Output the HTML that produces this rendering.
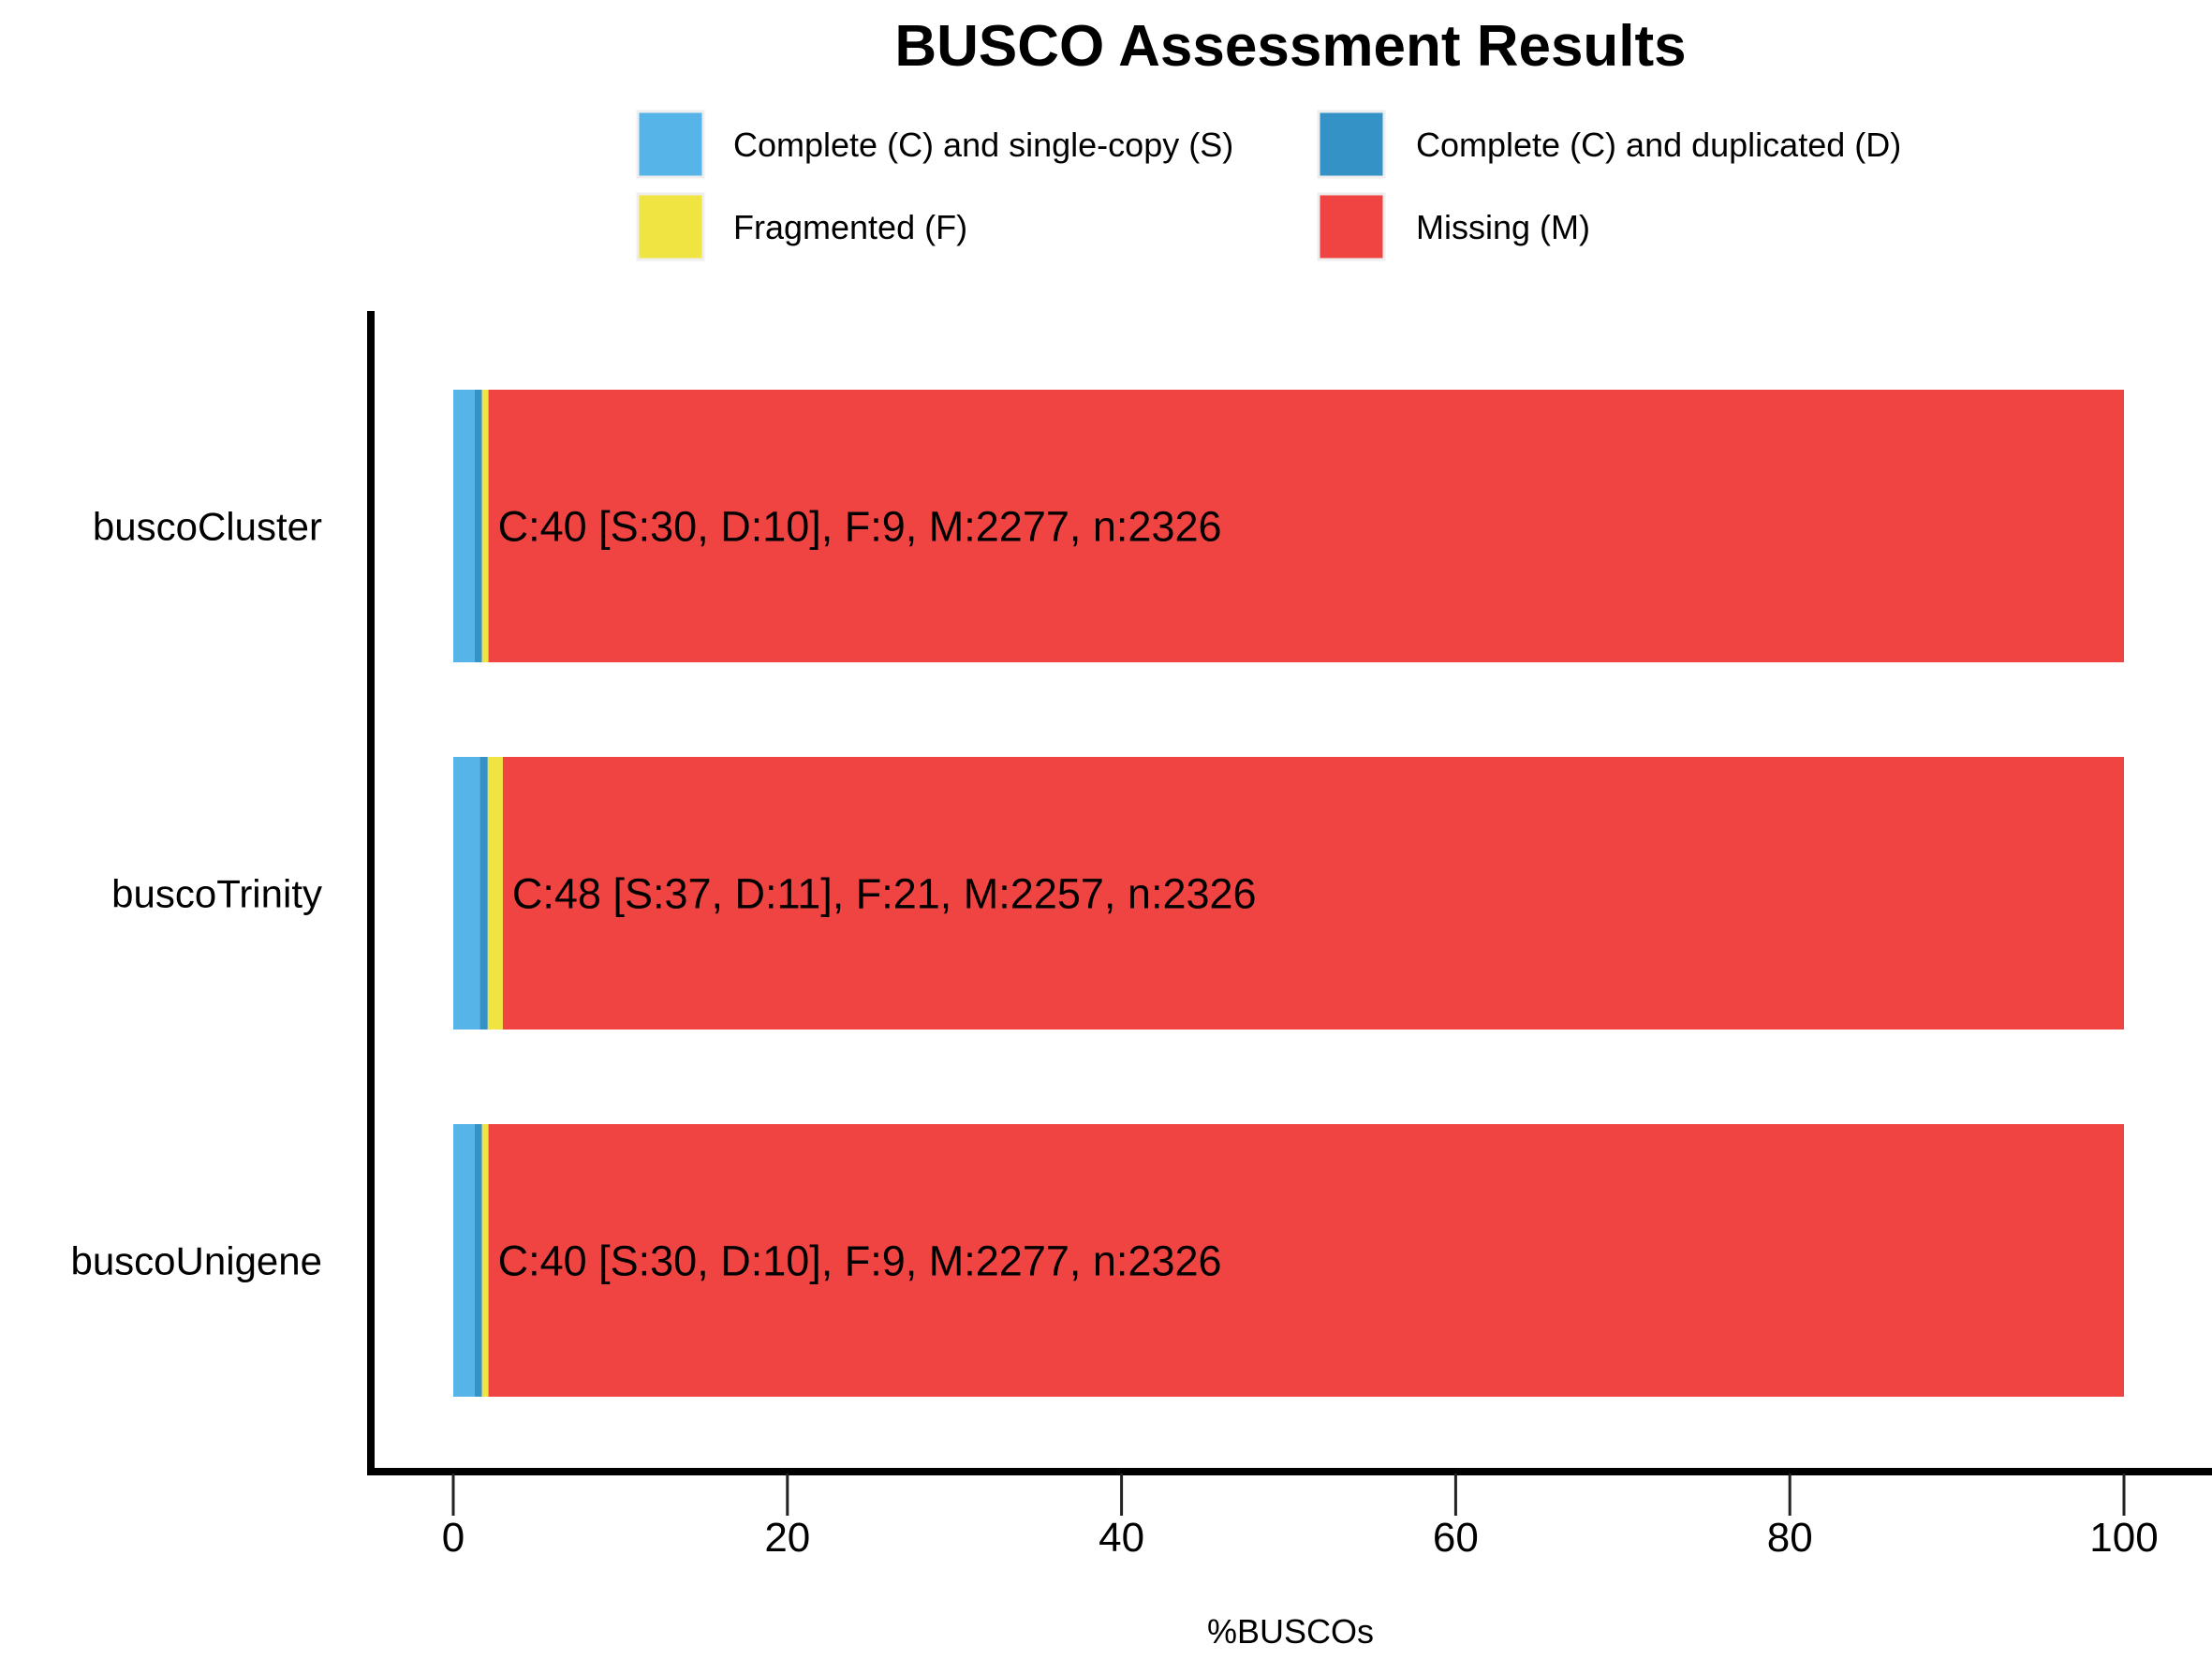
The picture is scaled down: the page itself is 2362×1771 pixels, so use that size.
<!DOCTYPE html>
<html><head><meta charset="utf-8"><style>html,body{margin:0;padding:0;background:#fff}svg{display:block;font-family:"Liberation Sans",Arial,sans-serif}</style></head>
<body>
<svg id="chart" width="2362" height="1771" viewBox="0 0 2362 1771">
<text x="1378" y="70" text-anchor="middle" font-size="62" font-weight="bold">BUSCO Assessment Results</text>
<g>
<g><rect x="681" y="119" width="70" height="70" fill="#56B4E9" stroke="#eee" stroke-width="3"/><text x="783" y="167" font-size="36">Complete (C) and single-copy (S)</text></g>
<g><rect x="1408" y="119" width="70" height="70" fill="#3492C7" stroke="#eee" stroke-width="3"/><text x="1512" y="167" font-size="36">Complete (C) and duplicated (D)</text></g>
<g><rect x="681" y="207" width="70" height="70" fill="#F0E442" stroke="#eee" stroke-width="3"/><text x="783" y="255" font-size="36">Fragmented (F)</text></g>
<g><rect x="1408" y="207" width="70" height="70" fill="#F04442" stroke="#eee" stroke-width="3"/><text x="1512" y="255" font-size="36">Missing (M)</text></g>
</g>
<g id="bars"></g>
<line x1="396" y1="332" x2="396" y2="1575" stroke="#000" stroke-width="8"/>
<line x1="392" y1="1571" x2="2362" y2="1571" stroke="#000" stroke-width="8"/>
<g id="xticks"></g>
<text x="1378" y="1754" text-anchor="middle" font-size="36">%BUSCOs</text>
</svg>
<script>
const categories = ["buscoCluster", "buscoTrinity", "buscoUnigene"];
const singleCopy = [30, 37, 30];
const duplicated = [10, 11, 10];
const fragmented = [9, 21, 9];
const missing = [2277, 2257, 2277];
const totals = [2326, 2326, 2326];
const tickValues = [0, 20, 40, 60, 80, 100];

const NS = "http://www.w3.org/2000/svg";
const x0 = 484, pxPer = 17.84;
function xScale(v){ return x0 + v * pxPer; }
const bandTop = 416, bandStep = 392, barH = 291;
function yScale(i){ return bandTop + i * bandStep; }

const bars = document.getElementById("bars");
const colors = ["#56B4E9", "#3492C7", "#F0E442", "#F04442"];
const segNames = ["single-copy", "duplicated", "fragmented", "missing"];
categories.forEach(function(cat, i){
  const vals = [singleCopy[i], duplicated[i], fragmented[i], missing[i]];
  let acc = 0;
  vals.forEach(function(v, k){
    const p0 = acc / totals[i] * 100;
    acc += v;
    const p1 = acc / totals[i] * 100;
    const r = document.createElementNS(NS, "rect");
    r.setAttribute("x", xScale(p0));
    r.setAttribute("y", yScale(i));
    r.setAttribute("width", Math.max(0, xScale(p1) - xScale(p0)));
    r.setAttribute("height", barH);
    r.setAttribute("fill", colors[k]);
    
    
    bars.appendChild(r);
  });
  const cy = yScale(i) + barH / 2;
  const lab = document.createElementNS(NS, "text");
  lab.setAttribute("x", 344);
  lab.setAttribute("y", cy + 15);
  lab.setAttribute("text-anchor", "end");
  lab.setAttribute("font-size", "42");
  lab.textContent = cat;
  
  
  bars.appendChild(lab);
  const c = singleCopy[i] + duplicated[i];
  const ann = document.createElementNS(NS, "text");
  const fStart = xScale((singleCopy[i] + duplicated[i] + fragmented[i]) / totals[i] * 100);
  ann.setAttribute("x", fStart + 10);
  ann.setAttribute("y", cy + 16);
  ann.setAttribute("font-size", "45");
  ann.textContent = "C:" + c + " [S:" + singleCopy[i] + ", D:" + duplicated[i] + "], F:" + fragmented[i] + ", M:" + missing[i] + ", n:" + totals[i];
  
  
  bars.appendChild(ann);
});

const xt = document.getElementById("xticks");
tickValues.forEach(function(t){
  const x = xScale(t);
  const l = document.createElementNS(NS, "line");
  l.setAttribute("x1", x); l.setAttribute("x2", x);
  l.setAttribute("y1", 1573); l.setAttribute("y2", 1618);
  l.setAttribute("stroke", "#222"); l.setAttribute("stroke-width", "3");
  
  
  xt.appendChild(l);
  const tx = document.createElementNS(NS, "text");
  tx.setAttribute("x", x); tx.setAttribute("y", 1656);
  tx.setAttribute("text-anchor", "middle");
  tx.setAttribute("font-size", "44");
  tx.textContent = t;
  
  
  xt.appendChild(tx);
});
</script>
</body></html>
